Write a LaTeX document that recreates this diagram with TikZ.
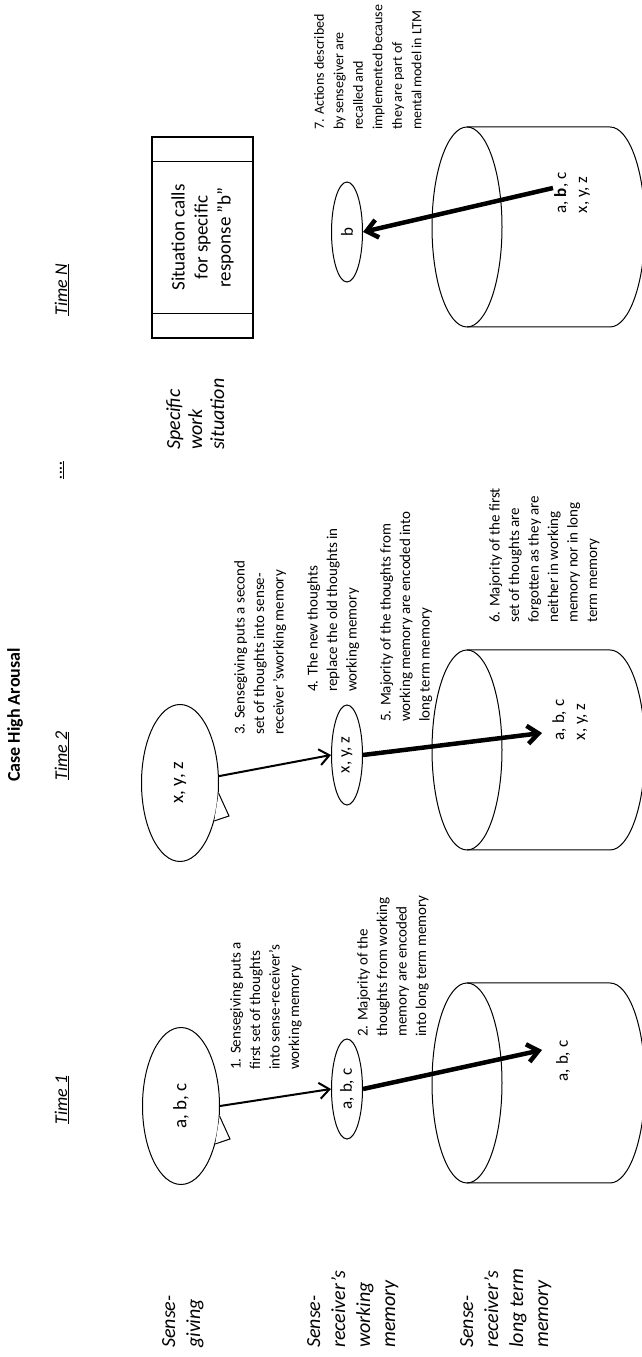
\documentclass[tikz,border=0pt]{standalone}
\usepackage{fontspec}
\setmainfont{Carlito}
\usetikzlibrary{shapes.geometric, arrows.meta}

\begin{document}
\begin{tikzpicture}[
    x=1pt, y=1pt,
    rotate=90, transform shape,
    every node/.style={align=left, inner sep=0pt},
    bubble/.style={
        ellipse, draw, line width=1pt,
        minimum width=157pt, minimum height=77pt,
        font=\fontsize{19}{23}\selectfont
    },
    bubbletail/.style={line width=1pt, line join=miter},
    memcell/.style={
        ellipse, draw, line width=1pt,
        minimum width=100pt, minimum height=31pt,
        font=\fontsize{17}{20}\selectfont
    },
    note/.style={anchor=north west, font=\fontsize{15}{19.5}\selectfont},
    rowlabel/.style={anchor=north west, font=\fontsize{20}{25}\selectfont\itshape},
    timelabel/.style={font=\fontsize{18}{22}\selectfont\itshape},
    ltmtext/.style={font=\fontsize{17}{21}\selectfont},
    thinarrow/.style={-{Straight Barb[length=10pt, width=16pt]}, line width=2pt},
    thickarrow/.style={-{Straight Barb[length=11pt, width=18pt]}, line width=4.5pt}
]

    % page (landscape, turned by 90 degrees)
    \clip (0,0) rectangle (1357,-642);
    \fill[white] (0,0) rectangle (1357,-642);

    % ------------------- TITLES -------------------
    \node[font=\fontsize{18}{21}\selectfont\bfseries] (title) at (642,-15) {Case High Arousal};

    \node[timelabel] (tOne) at (257,-62) {\underline{Time 1}};
    \node[timelabel] (tTwo) at (601,-62) {\underline{Time 2}};
    \node[timelabel] (tDots) at (887,-62) {\underline{....}};
    \node[timelabel] (tN) at (1067,-62) {\underline{Time N}};

    % row labels
    \node[rowlabel] (rowGiving) at (9,-162) {Sense-\\giving};
    \node[rowlabel] (rowWorking) at (9,-307) {Sense-\\receiver’s\\working\\memory};
    \node[rowlabel] (rowLong) at (9,-460) {Sense-\\receiver’s\\long term\\memory};
    \node[rowlabel, font=\fontsize{20}{22}\selectfont\itshape] (rowSituation) at (907,-166) {Specific\\work\\situation};

    % ------------------- LONG TERM MEMORY (cylinders) -------------------
    \foreach \cu in {274, 607, 1130} {
        \draw[line width=1pt] (\cu,-467) ellipse (100 and 35);
        \draw[line width=1pt] (\cu-100,-467) -- (\cu-100,-610) arc (180:360:100 and 35) -- (\cu+100,-467);
    }

    \node[ltmtext] (ltmA) at (296,-563) {a, b, c};
    \node[ltmtext] (ltmB) at (637,-570) {a, b, c\\x, y, z};
    \node[ltmtext] (ltmN) at (1164,-572) {a, \textbf{b}, c\\x, y, z};

    % ------------------- SENSEGIVING AND WORKING MEMORY -------------------
    \node[bubble] (bubA) at (251,-181) {a, b, c};
    \node[bubble] (bubB) at (574,-180) {x, y, z};

    % speech bubble tails
    \coordinate (tailA) at (218,-230);
    \coordinate (tailB) at (541,-229);
    \fill[white] (bubA.255) -- (tailA) -- (bubA.222) -- cycle;
    \draw[bubbletail] (bubA.255) -- (tailA) -- (bubA.222);
    \fill[white] (bubB.255) -- (tailB) -- (bubB.222) -- cycle;
    \draw[bubbletail] (bubB.255) -- (tailB) -- (bubB.222);

    \node[memcell] (wmA) at (268,-347) {a, b, c};
    \node[memcell] (wmB) at (602,-347) {x, y, z};
    \node[memcell] (wmN) at (1125,-347) {b};

    % work situation
    \node[draw, line width=1.2pt, minimum width=201pt, minimum height=101pt, align=center,
          font=\fontsize{19}{23}\selectfont] (sit) at (1119.5,-202.5) {Situation calls\\for specific\\response ”b”};
    \draw[line width=1.2pt] ([xshift=25pt]sit.north west) -- ([xshift=25pt]sit.south west);
    \draw[line width=1.2pt] ([xshift=-25pt]sit.north east) -- ([xshift=-25pt]sit.south east);

    % ------------------- NOTES -------------------
    \node[note] (noteA) at (287,-230) {1. Sensegiving puts a\\first set of thoughts\\into sense-receiver’s\\working memory};
    \node[note] (noteB) at (320,-357) {2. Majority of the\\thoughts from working\\memory are encoded\\into long term memory};
    \node[note] (noteC) at (622,-234) {3. Sensegiving puts a second\\set of thoughts into sense-\\receiver ’sworking memory};
    \node[note] (noteD) at (665,-307) {4. The new thoughts\\replace the old thoughts in\\working memory};
    \node[note] (noteE) at (635,-380) {5. Majority of the thoughts from\\working memory are encoded into\\long term memory};
    \node[note] (noteF) at (734,-489) {6. Majority of the first\\set of thoughts are\\forgotten as they are\\neither in working\\memory nor in long\\term memory};
    \node[note, font=\fontsize{14}{19.5}\selectfont] (noteG) at (1227,-314) {7. Actions described\\by\,sensegiver are\\recalled\,and\\implemented\,because\\they\,are part of\\mental\,model in LTM};

    % ------------------- ARROWS -------------------
    \coordinate (tipA) at (307,-542);
    \coordinate (tipB) at (624,-542);
    \coordinate (tailN) at (1169,-553);

    \draw[thinarrow] (bubA.south) -- (wmA.north);
    \draw[thickarrow] (wmA.south) -- (tipA);

    \draw[thinarrow] (bubB.280) -- (wmB.north);
    \draw[thickarrow] (wmB.south) -- (tipB);

    \draw[thickarrow] (tailN) -- (wmN.south);
\end{tikzpicture}
\end{document}
